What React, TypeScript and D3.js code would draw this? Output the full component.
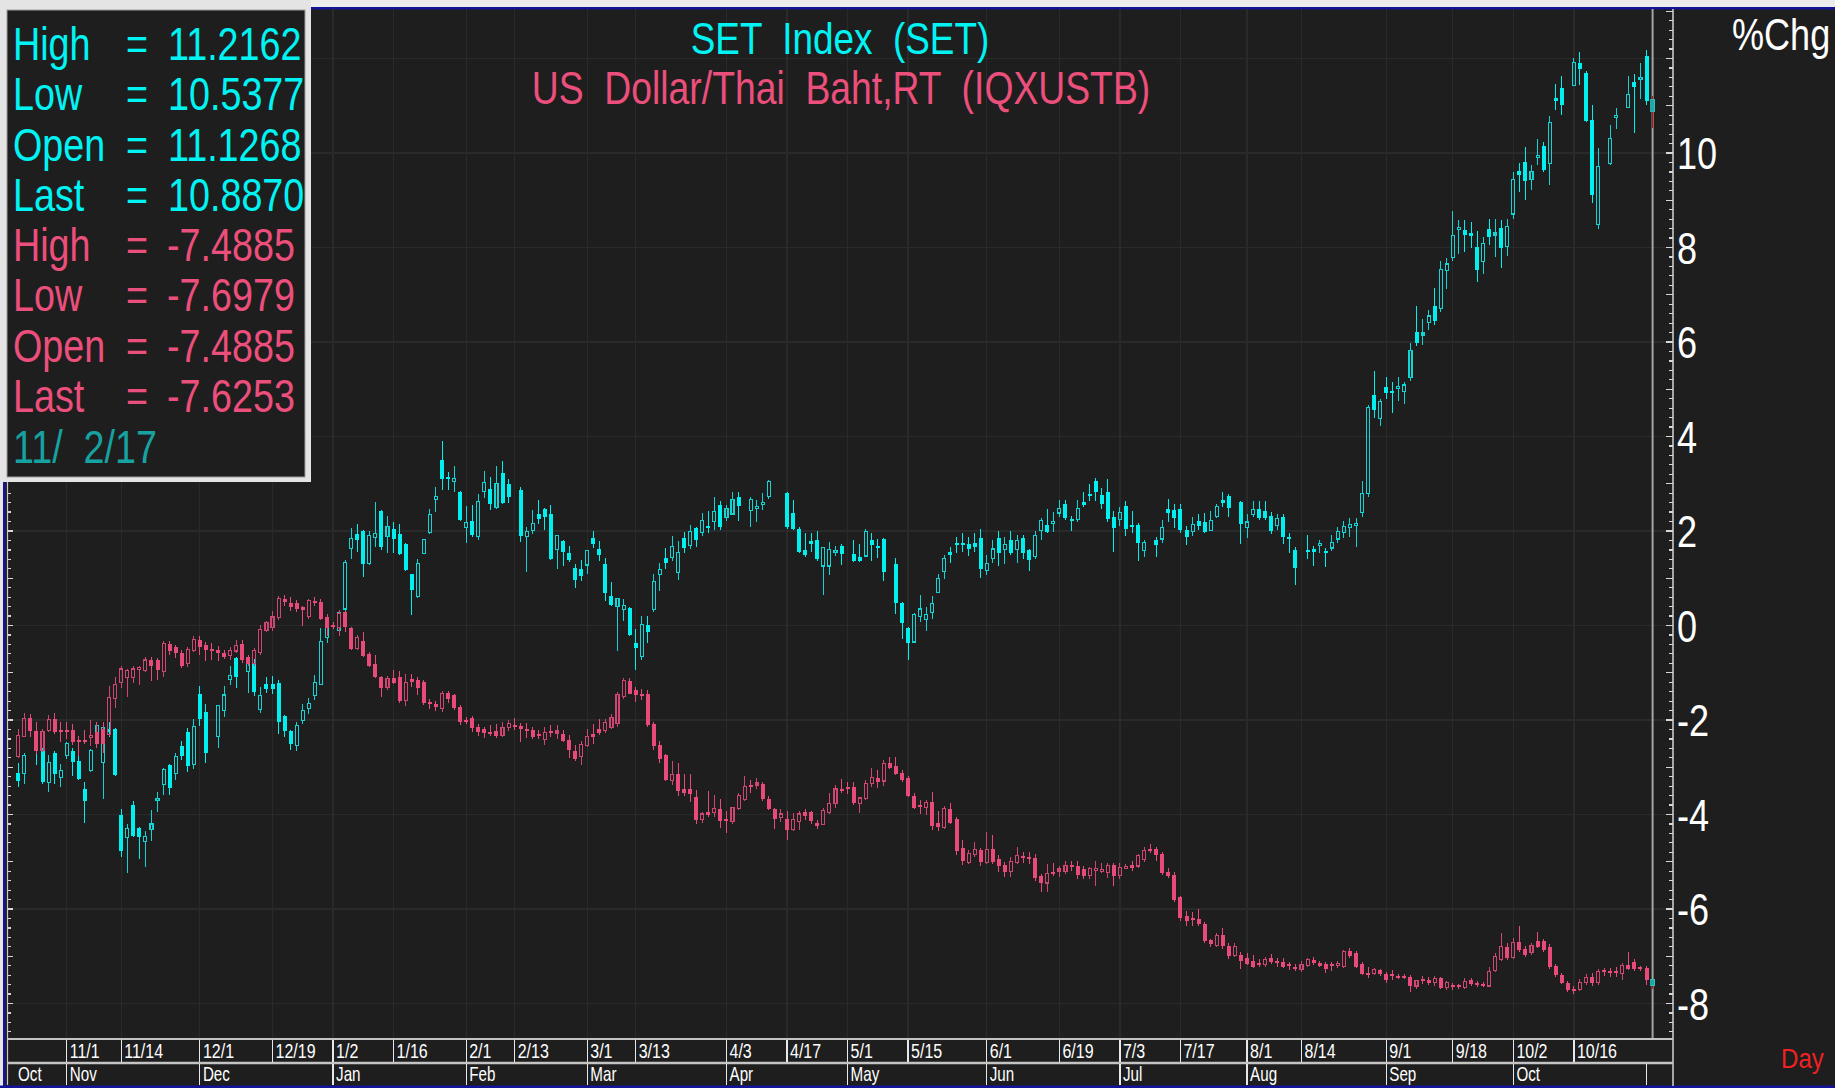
import React from 'react';
import * as d3 from 'd3';

const W = 1835;
const H = 1088;
const FONT = '"Liberation Sans", Arial, Helvetica, sans-serif';

// ---- categories ----
const firstDay = new Date(2016, 9, 20);
const lastDay = new Date(2017, 10, 2);
const dateTicks: [string, string][] = [
  ['2016-11-01', '11/1'], ['2016-11-14', '11/14'], ['2016-12-01', '12/1'], ['2016-12-19', '12/19'],
  ['2017-01-02', '1/2'], ['2017-01-16', '1/16'], ['2017-02-01', '2/1'], ['2017-02-13', '2/13'],
  ['2017-03-01', '3/1'], ['2017-03-13', '3/13'], ['2017-04-03', '4/3'], ['2017-04-17', '4/17'],
  ['2017-05-01', '5/1'], ['2017-05-15', '5/15'], ['2017-06-01', '6/1'], ['2017-06-19', '6/19'],
  ['2017-07-03', '7/3'], ['2017-07-17', '7/17'], ['2017-08-01', '8/1'], ['2017-08-14', '8/14'],
  ['2017-09-01', '9/1'], ['2017-09-18', '9/18'], ['2017-10-02', '10/2'], ['2017-10-16', '10/16'],
];
const monthNames = ['Jan', 'Feb', 'Mar', 'Apr', 'May', 'Jun', 'Jul', 'Aug', 'Sep', 'Oct', 'Nov', 'Dec'];
const yLabels = [10, 8, 6, 4, 2, 0, -2, -4, -6, -8];
const gridValues = [12, 10, 8, 6, 4, 2, 0, -2, -4, -6, -8];

const setInfo: [string, string][] = [['High', '11.2162'], ['Low', '10.5377'], ['Open', '11.1268'], ['Last', '10.8870']];
const fxInfo: [string, string][] = [['High', '-7.4885'], ['Low', '-7.6979'], ['Open', '-7.4885'], ['Last', '-7.6253']];
const infoDate = '11/  2/17';
const title1 = 'SET  Index  (SET)';
const title2 = 'US  Dollar/Thai  Baht,RT  (IQXUSTB)';

type C = [number, number, number, number] | null; // open, high, low, close (% change)

// SET Index (%Chg), one entry per weekday, null = market holiday
const setCandles: C[] = [
  [-3.13,-2.90,-3.41,-3.29],[-3.14,-2.69,-3.36,-2.76],null,[-2.35,-2.25,-2.95,-2.62],[-2.65,-2.60,-3.35,-3.32],
  [-3.32,-2.75,-3.52,-2.90],[-2.69,-2.65,-3.35,-3.14],[-3.22,-2.94,-3.41,-3.07],[-2.76,-2.47,-2.83,-2.49],[-2.66,-2.60,-3.18,-2.88],
  [-2.86,-2.66,-3.27,-3.25],[-3.46,-3.32,-4.18,-3.71],[-3.07,-2.61,-3.11,-2.64],[-2.33,-2.05,-2.40,-2.12],[-2.90,-2.14,-3.68,-2.16],
  [-2.20,-2.05,-2.35,-2.25],[-2.19,-2.17,-3.18,-3.16],[-4.00,-3.88,-4.90,-4.78],[-4.49,-4.20,-5.23,-4.30],[-3.80,-3.72,-4.47,-4.45],
  [-4.29,-4.27,-4.95,-4.47],[-4.57,-4.34,-5.11,-4.47],[-4.31,-3.90,-4.56,-4.20],[-3.70,-3.53,-3.95,-3.68],[-3.36,-3.02,-3.58,-3.04],
  [-2.95,-2.93,-3.58,-3.44],[-3.14,-2.70,-3.26,-2.78],[-2.56,-2.45,-2.84,-2.76],[-2.26,-2.16,-3.10,-2.97],[-2.95,-1.98,-3.04,-2.13],
  [-1.46,-1.27,-2.12,-1.98],[-1.84,-1.66,-2.90,-2.69],null,[-2.35,-1.68,-2.60,-1.70],[-1.80,-1.27,-1.93,-1.47],
  [-1.15,-0.85,-1.25,-1.06],[-0.69,-0.67,-1.32,-1.10],null,[-0.97,-0.79,-1.42,-0.81],[-0.81,-0.70,-1.49,-1.41],
  [-1.77,-1.30,-1.85,-1.48],[-1.24,-1.10,-1.42,-1.34],[-1.24,-1.06,-1.45,-1.34],[-1.22,-1.15,-2.29,-2.05],[-1.91,-1.89,-2.35,-2.23],
  [-2.23,-2.21,-2.64,-2.51],[-2.54,-2.05,-2.66,-2.12],[-2.01,-1.66,-2.08,-1.80],[-1.75,-1.53,-1.87,-1.66],[-1.48,-1.04,-1.58,-1.20],
  [-1.24,-0.05,-1.26,-0.33],[-0.25,0.05,-0.38,-0.05],null,[-0.11,0.32,-0.13,0.28],[0.35,1.39,0.27,1.34],
  [1.63,2.07,1.40,1.84],[1.94,2.15,1.55,1.80],[2.00,2.02,1.02,1.31],[1.31,2.00,1.28,1.91],[1.86,2.61,1.67,1.94],
  [2.42,2.44,1.60,1.66],[1.89,2.32,1.53,2.10],[2.05,2.19,1.53,1.84],[1.94,2.15,1.50,1.52],[1.73,1.75,1.15,1.17],
  [1.08,1.10,0.23,0.76],[0.61,1.41,0.59,1.31],[1.53,1.84,1.51,1.82],[1.96,2.47,1.93,2.35],[2.66,2.94,2.40,2.73],
  [3.51,3.90,2.86,3.09],[3.14,3.24,2.86,3.09],[3.04,3.37,2.82,3.11],[2.83,2.85,2.21,2.23],[2.08,2.52,1.74,2.18],
  [2.22,2.56,1.87,1.92],[1.88,2.78,1.82,2.62],[2.83,3.26,2.69,3.02],[2.88,3.14,2.44,2.57],[2.50,3.37,2.47,3.01],
  [3.22,3.48,2.57,2.59],[2.99,3.11,2.59,2.73],null,[2.86,2.94,1.77,1.89],[1.89,2.09,1.14,1.99],
  [2.02,2.45,1.93,2.15],[2.36,2.66,2.15,2.26],[2.46,2.49,2.03,2.30],[2.36,2.56,1.38,1.40],[1.60,1.92,1.19,1.90],
  [1.79,1.81,1.25,1.56],[1.53,1.69,1.35,1.39],[1.22,1.31,0.79,0.96],[1.19,1.39,0.94,1.05],[1.28,1.60,1.10,1.58],
  [1.86,2.00,1.63,1.72],[1.61,1.78,1.36,1.49],[1.31,1.43,0.52,0.69],[0.62,0.92,0.41,0.43],[0.40,0.59,-0.54,0.57],
  [0.33,0.57,0.09,0.42],[0.38,0.40,-0.22,-0.20],[-0.38,-0.08,-0.94,-0.47],[-0.65,0.21,-0.74,0.02],[0.01,0.21,-0.37,-0.13],
  [0.33,1.08,0.28,0.93],[1.07,1.32,0.72,1.19],[1.42,1.65,1.20,1.33],[1.44,1.90,1.37,1.67],[1.12,1.79,0.96,1.54],
  [1.86,1.98,1.53,1.65],[1.70,2.12,1.61,1.98],[2.06,2.08,1.66,1.80],[1.96,2.39,1.89,2.22],[2.11,2.43,1.96,2.06],
  [2.20,2.71,2.03,2.42],[2.55,2.63,2.03,2.08],[2.29,2.56,2.22,2.48],[2.36,2.82,2.33,2.66],[2.71,2.82,2.22,2.53],
  null,[2.43,2.71,2.09,2.66],[2.48,2.66,2.20,2.51],[2.57,2.80,2.45,2.59],[2.73,3.07,2.68,3.05],
  null,null,[2.81,2.83,2.04,2.09],[2.39,2.66,2.02,2.04],[2.04,2.09,1.54,1.56],
  [1.60,1.95,1.45,1.49],[1.79,1.96,1.56,1.72],[1.82,1.99,1.36,1.40],[1.26,1.67,0.65,1.65],[1.26,1.76,1.06,1.61],
  [1.55,1.68,1.48,1.58],[1.68,1.72,1.29,1.51],null,[1.51,1.81,1.35,1.37],[1.46,1.73,1.34,1.37],
  [1.47,2.04,1.44,1.99],[1.81,1.96,1.36,1.70],[1.69,1.84,1.43,1.63],[1.83,1.86,0.95,1.14],null,
  [1.31,1.42,0.25,0.47],[0.47,0.49,-0.29,0.06],[-0.05,-0.03,-0.74,-0.37],[-0.35,0.26,-0.37,0.24],[0.20,0.65,0.08,0.35],
  [0.13,0.39,-0.11,0.23],[0.27,0.63,0.13,0.46],[0.70,1.10,0.68,0.99],[1.15,1.49,0.98,1.42],[1.56,1.66,1.32,1.50],
  [1.75,1.88,1.53,1.70],[1.75,1.96,1.56,1.70],[1.72,1.88,1.48,1.62],[1.75,1.96,1.56,1.67],[1.85,2.05,1.01,1.19],
  [1.17,1.49,1.06,1.32],[1.42,1.82,1.33,1.62],[1.85,1.99,1.26,1.54],[1.60,1.88,1.30,1.72],[1.82,1.99,1.49,1.54],
  [1.60,1.92,1.33,1.80],[1.85,1.92,1.41,1.54],[1.60,1.62,1.16,1.38],[1.46,2.00,1.41,1.91],[2.01,2.27,1.80,2.22],
  [2.13,2.46,1.95,1.97],[2.17,2.40,1.97,2.20],[2.38,2.66,2.30,2.48],[2.58,2.66,2.24,2.28],[2.26,2.31,2.00,2.22],
  [2.25,2.66,2.19,2.48],[2.61,2.82,2.50,2.56],[2.79,2.99,2.64,2.75],[3.05,3.13,2.64,2.83],[2.77,2.90,2.47,2.58],
  [2.82,3.10,2.19,2.25],[2.30,2.42,1.56,2.07],[2.25,2.50,2.11,2.39],[2.52,2.63,1.90,2.05],[2.11,2.42,1.96,2.09],
  [2.13,2.16,1.37,1.74],[1.58,1.80,1.44,1.75],null,[1.80,1.88,1.46,1.70],[1.83,2.24,1.74,2.07],
  [2.46,2.67,2.20,2.38],[2.44,2.57,2.07,2.27],[2.46,2.57,1.96,2.03],[2.03,2.11,1.71,1.88],[1.99,2.29,1.90,2.14],
  [2.22,2.35,2.03,2.11],[2.19,2.38,1.95,1.97],[2.01,2.43,1.99,2.22],[2.30,2.58,2.27,2.52],[2.66,2.82,2.50,2.60],
  [2.74,2.78,2.30,2.48],null,[2.61,2.63,1.72,2.14],[2.07,2.35,1.86,2.19],[2.35,2.63,2.29,2.46],
  [2.46,2.63,2.24,2.28],[2.42,2.63,2.24,2.28],[2.32,2.41,1.94,1.99],[2.11,2.36,2.03,2.26],[2.30,2.36,1.72,1.88],
  [1.88,1.96,1.53,1.83],[1.60,1.66,0.86,1.21],null,[1.60,1.91,1.41,1.56],[1.62,1.68,1.26,1.56],
  [1.70,1.82,1.53,1.72],[1.58,1.64,1.23,1.54],[1.64,1.92,1.58,1.75],[1.83,2.09,1.74,1.99],[1.97,2.22,1.86,2.09],
  [2.07,2.27,1.88,2.14],[2.13,2.27,1.66,2.14],[2.40,3.05,2.30,2.79],[2.80,4.66,2.72,4.62],[4.88,5.38,4.39,4.56],
  [4.39,4.80,4.23,4.75],[5.05,5.25,4.79,4.92],[4.96,5.15,4.49,4.93],[5.03,5.25,4.75,5.05],[4.96,5.15,4.69,5.09],
  [5.25,5.98,5.17,5.82],[6.22,6.76,5.91,5.98],[6.16,6.49,5.93,6.18],[6.41,6.68,6.25,6.55],[6.77,7.15,6.36,6.44],
  [6.71,7.71,6.63,7.54],[7.52,7.77,7.13,7.65],[7.79,8.78,7.71,8.25],[8.40,8.59,7.86,8.42],[8.38,8.59,7.90,8.26],
  [8.31,8.55,8.00,8.25],[8.02,8.35,7.26,7.52],[7.70,8.22,7.43,8.09],[8.39,8.60,8.05,8.22],[8.28,8.60,7.80,8.29],
  [8.42,8.59,7.57,8.00],[8.03,8.60,7.83,8.45],[8.71,9.60,8.61,9.44],[9.61,9.79,9.18,9.54],[9.80,10.13,9.00,9.41],
  [9.43,9.74,9.22,9.61],[9.91,10.29,9.74,9.93],[10.14,10.24,9.59,9.65],[9.77,10.78,9.32,10.64],[11.17,11.47,10.90,11.10],
  [11.37,11.62,10.80,11.01],null,[11.43,12.02,11.41,11.92],[11.91,12.13,11.43,11.78],[11.69,11.73,10.65,10.67],
  [10.69,11.02,8.94,9.11],[8.49,10.10,8.39,9.72],null,[9.77,10.59,9.75,10.31],[10.75,10.95,10.50,10.78],
  null,[10.97,11.62,10.95,11.24],[11.51,11.68,10.42,11.39],[11.56,11.90,11.15,11.58],[12.06,12.19,11.02,11.10],
  [11.1268,11.2162,10.5377,10.887],
];

// US Dollar / Thai Baht (%Chg)
const fxCandles: C[] = [
  [-2.78,-2.19,-2.81,-2.33],[-2.35,-1.86,-2.37,-1.96],[-1.96,-1.87,-2.35,-2.23],[-2.23,-2.05,-2.72,-2.65],[-2.65,-2.19,-2.67,-2.24],
  [-2.23,-1.90,-2.26,-1.98],[-1.98,-1.86,-2.30,-2.26],[-2.22,-2.05,-2.47,-2.23],[-2.22,-2.05,-2.40,-2.23],[-2.22,-2.08,-2.52,-2.47],
  [-2.42,-2.33,-2.77,-2.47],[-2.43,-2.22,-2.51,-2.44],[-2.37,-2.00,-2.56,-2.33],[-2.26,-2.05,-2.60,-2.51],[-2.19,-2.05,-2.69,-2.51],
  [-2.30,-1.29,-2.33,-1.52],[-1.55,-1.09,-1.74,-1.24],[-1.20,-0.85,-1.33,-0.92],[-1.11,-0.92,-1.51,-0.95],[-1.11,-0.86,-1.21,-0.92],
  [-0.92,-0.85,-1.26,-0.90],[-0.95,-0.66,-0.99,-0.73],[-0.73,-0.66,-1.17,-0.85],[-0.74,-0.68,-1.15,-0.95],[-0.97,-0.33,-1.08,-0.39],
  [-0.39,-0.33,-0.62,-0.53],[-0.46,-0.41,-0.69,-0.59],[-0.59,-0.52,-0.90,-0.85],[-0.81,-0.45,-0.88,-0.50],[-0.52,-0.23,-0.57,-0.30],
  [-0.30,-0.23,-0.62,-0.45],[-0.42,-0.35,-0.76,-0.52],[-0.49,-0.38,-0.72,-0.53],[-0.51,-0.43,-0.76,-0.59],[-0.59,-0.52,-0.71,-0.67],
  [-0.64,-0.46,-0.72,-0.53],[-0.54,-0.30,-0.58,-0.42],[-0.39,-0.30,-0.80,-0.73],[-0.67,-0.63,-0.86,-0.81],[-0.81,-0.48,-0.86,-0.53],
  [-0.57,0.01,-0.63,-0.09],[-0.11,0.10,-0.14,0.07],[-0.05,0.30,-0.11,0.18],[0.16,0.62,0.12,0.57],[0.57,0.65,0.41,0.49],
  [0.47,0.60,0.30,0.39],[0.47,0.53,0.28,0.35],[0.39,0.42,-0.02,0.32],[0.19,0.57,0.14,0.52],[0.52,0.60,0.42,0.47],
  [0.49,0.57,0.11,0.14],[0.18,0.25,-0.23,-0.05],[0.01,0.08,-0.08,-0.01],[-0.04,0.32,-0.23,0.26],[0.28,0.30,-0.13,-0.04],
  [-0.05,-0.03,-0.52,-0.49],[-0.49,-0.21,-0.52,-0.25],[-0.32,-0.14,-0.66,-0.64],[-0.61,-0.56,-0.87,-0.85],[-0.81,-0.62,-1.12,-1.10],
  [-1.10,-1.06,-1.51,-1.32],[-1.32,-1.06,-1.37,-1.13],[-1.11,-0.95,-1.24,-1.22],[-1.08,-0.97,-1.65,-1.60],[-1.58,-1.02,-1.70,-1.20],
  [-1.13,-1.02,-1.30,-1.20],[-1.15,-1.08,-1.48,-1.32],[-1.20,-1.15,-1.69,-1.65],[-1.63,-1.55,-1.76,-1.67],[-1.66,-1.60,-1.80,-1.73],
  [-1.75,-1.38,-1.84,-1.43],[-1.43,-1.38,-1.63,-1.55],[-1.48,-1.45,-1.79,-1.75],[-1.72,-1.68,-2.10,-2.05],[-1.99,-1.93,-2.09,-2.04],
  [-1.95,-1.91,-2.25,-2.16],[-2.15,-2.08,-2.33,-2.25],[-2.20,-2.15,-2.39,-2.28],[-2.25,-2.11,-2.33,-2.29],[-2.23,-2.08,-2.39,-2.33],
  [-2.33,-2.05,-2.36,-2.15],[-2.16,-2.01,-2.23,-2.08],[-2.12,-1.96,-2.22,-2.15],[-2.12,-2.06,-2.47,-2.20],[-2.21,-2.07,-2.39,-2.22],
  [-2.21,-2.14,-2.41,-2.35],[-2.31,-2.21,-2.41,-2.33],[-2.42,-2.14,-2.52,-2.26],[-2.25,-2.11,-2.35,-2.26],[-2.26,-2.10,-2.40,-2.25],
  [-2.29,-2.21,-2.47,-2.45],[-2.42,-2.32,-2.81,-2.64],[-2.66,-2.52,-2.86,-2.82],[-2.77,-2.45,-2.95,-2.52],[-2.54,-2.19,-2.57,-2.35],
  [-2.29,-2.08,-2.50,-2.35],[-2.18,-1.98,-2.31,-2.28],[-2.22,-1.98,-2.28,-2.06],[-2.15,-1.88,-2.20,-1.95],[-2.08,-1.40,-2.14,-1.46],
  [-1.50,-1.11,-1.56,-1.17],[-1.17,-1.11,-1.46,-1.44],[-1.36,-1.31,-1.62,-1.48],[-1.46,-1.34,-1.57,-1.49],[-1.46,-1.37,-2.15,-2.11],
  [-2.09,-2.05,-2.63,-2.56],[-2.52,-2.44,-2.90,-2.82],[-2.75,-2.72,-3.30,-3.28],[-3.28,-2.87,-3.37,-3.15],[-3.15,-2.91,-3.60,-3.51],
  [-3.46,-3.15,-3.60,-3.54],[-3.46,-3.14,-3.73,-3.56],[-3.62,-3.48,-4.20,-4.11],[-4.11,-3.95,-4.19,-3.99],[-3.95,-3.50,-4.05,-4.02],
  [-3.95,-3.58,-4.05,-3.88],[-3.88,-3.67,-4.29,-4.14],[-4.09,-3.93,-4.39,-4.14],[-4.14,-3.84,-4.20,-3.86],[-3.88,-3.54,-3.91,-3.60],
  [-3.69,-3.18,-3.72,-3.41],[-3.40,-3.28,-3.54,-3.41],[-3.36,-3.22,-3.45,-3.35],[-3.35,-3.32,-3.72,-3.68],[-3.67,-3.60,-3.91,-3.88],
  [-3.88,-3.86,-4.31,-4.09],[-4.07,-3.89,-4.16,-3.99],[-4.09,-3.93,-4.55,-4.32],[-4.32,-3.96,-4.34,-4.11],[-4.15,-3.92,-4.33,-3.99],
  [-3.95,-3.89,-4.11,-4.04],[-3.95,-3.92,-4.21,-4.14],[-4.18,-4.11,-4.30,-4.25],[-4.21,-3.86,-4.23,-3.92],[-3.95,-3.55,-3.99,-3.76],
  [-3.77,-3.38,-3.86,-3.46],[-3.46,-3.24,-3.55,-3.49],[-3.43,-3.31,-3.56,-3.44],[-3.42,-3.31,-3.80,-3.76],[-3.76,-3.62,-3.96,-3.65],
  [-3.67,-3.26,-3.70,-3.35],[-3.35,-3.01,-3.42,-3.22],[-3.22,-3.06,-3.44,-3.31],[-3.29,-2.85,-3.39,-2.93],[-2.91,-2.79,-3.04,-3.01],
  [-2.98,-2.79,-3.16,-3.14],[-3.12,-3.06,-3.31,-3.28],[-3.22,-3.18,-3.63,-3.60],[-3.60,-3.54,-3.89,-3.86],[-3.82,-3.70,-3.99,-3.84],
  [-3.86,-3.69,-4.02,-3.75],[-3.74,-3.53,-4.33,-4.25],[-4.17,-3.93,-4.35,-4.27],[-4.27,-3.82,-4.30,-3.88],[-3.88,-3.75,-4.20,-4.17],
  [-4.09,-4.05,-4.85,-4.77],[-4.70,-4.55,-5.06,-4.98],[-5.01,-4.75,-5.05,-4.82],[-4.84,-4.58,-4.91,-4.74],[-4.76,-4.70,-5.10,-5.01],
  [-5.01,-4.36,-5.05,-4.74],[-4.74,-4.44,-5.05,-5.01],[-4.94,-4.86,-5.22,-5.09],[-5.07,-5.00,-5.32,-5.21],[-5.21,-4.89,-5.33,-4.99],
  [-5.02,-4.69,-5.05,-4.87],[-4.90,-4.79,-5.03,-4.92],[-4.91,-4.79,-5.04,-4.92],[-4.93,-4.84,-5.40,-5.34],[-5.31,-5.25,-5.63,-5.45],
  [-5.45,-5.04,-5.63,-5.24],[-5.24,-5.03,-5.31,-5.25],[-5.18,-5.10,-5.33,-5.17],[-5.21,-4.98,-5.25,-5.07],[-5.08,-4.98,-5.20,-5.09],
  [-5.09,-4.98,-5.37,-5.29],[-5.16,-5.09,-5.37,-5.31],[-5.29,-5.12,-5.37,-5.15],[-5.17,-4.98,-5.52,-5.16],[-5.19,-5.02,-5.24,-5.18],
  [-5.23,-5.02,-5.34,-5.07],[-5.07,-5.03,-5.51,-5.31],[-5.29,-5.03,-5.36,-5.13],[-5.12,-5.04,-5.14,-5.11],[-5.07,-4.98,-5.19,-5.13],
  [-5.09,-4.84,-5.14,-4.87],[-4.95,-4.69,-5.00,-4.76],[-4.74,-4.63,-4.82,-4.77],[-4.74,-4.68,-4.98,-4.85],[-4.84,-4.79,-5.29,-5.23],
  [-5.21,-5.13,-5.35,-5.31],[-5.27,-5.21,-5.86,-5.81],[-5.75,-5.73,-6.25,-6.20],[-6.15,-6.05,-6.36,-6.26],[-6.20,-6.07,-6.35,-6.22],
  [-6.21,-5.99,-6.36,-6.32],[-6.31,-6.27,-6.71,-6.67],[-6.65,-6.63,-6.80,-6.75],[-6.78,-6.50,-6.80,-6.56],[-6.56,-6.41,-6.85,-6.78],
  [-6.78,-6.73,-7.05,-6.99],[-6.99,-6.73,-7.01,-6.79],[-6.97,-6.90,-7.27,-7.09],[-7.04,-6.94,-7.19,-7.17],[-7.10,-6.98,-7.24,-7.22],
  [-7.16,-7.06,-7.23,-7.17],[-7.18,-7.01,-7.22,-7.07],[-7.03,-6.96,-7.17,-7.12],[-7.11,-7.04,-7.22,-7.12],[-7.12,-7.03,-7.25,-7.22],
  [-7.19,-7.12,-7.29,-7.20],[-7.22,-7.17,-7.31,-7.28],[-7.28,-7.11,-7.33,-7.17],[-7.20,-7.03,-7.23,-7.07],[-7.07,-7.01,-7.18,-7.14],
  [-7.14,-7.09,-7.23,-7.20],[-7.17,-7.12,-7.36,-7.28],[-7.19,-7.13,-7.31,-7.20],[-7.20,-7.09,-7.25,-7.15],[-7.22,-6.86,-7.25,-6.89],
  [-6.89,-6.83,-7.04,-6.99],[-6.93,-6.89,-7.25,-7.22],[-7.17,-7.12,-7.40,-7.38],[-7.37,-7.23,-7.46,-7.38],[-7.36,-7.25,-7.40,-7.28],
  [-7.30,-7.26,-7.42,-7.38],[-7.38,-7.34,-7.56,-7.51],[-7.39,-7.30,-7.50,-7.40],[-7.43,-7.37,-7.48,-7.43],[-7.42,-7.38,-7.48,-7.44],
  [-7.43,-7.40,-7.76,-7.63],[-7.63,-7.50,-7.70,-7.52],[-7.49,-7.42,-7.58,-7.50],[-7.50,-7.43,-7.60,-7.56],[-7.56,-7.42,-7.62,-7.47],
  [-7.47,-7.43,-7.70,-7.67],[-7.67,-7.53,-7.72,-7.56],[-7.63,-7.57,-7.72,-7.64],[-7.63,-7.58,-7.69,-7.64],[-7.67,-7.47,-7.70,-7.54],
  [-7.50,-7.45,-7.63,-7.59],[-7.59,-7.52,-7.66,-7.60],[-7.59,-7.55,-7.65,-7.61],[-7.63,-7.23,-7.65,-7.32],[-7.31,-6.93,-7.34,-7.00],
  [-7.06,-6.50,-7.10,-6.80],[-6.80,-6.72,-7.08,-7.03],[-7.03,-6.61,-7.05,-6.70],[-6.70,-6.37,-6.92,-6.87],[-6.85,-6.78,-7.02,-6.97],
  [-6.93,-6.72,-6.98,-6.77],[-6.67,-6.48,-6.83,-6.80],[-6.68,-6.63,-6.90,-6.87],[-6.80,-6.75,-7.27,-7.23],[-7.21,-7.17,-7.44,-7.40],
  [-7.39,-7.35,-7.59,-7.56],[-7.56,-7.52,-7.75,-7.72],[-7.70,-7.62,-7.80,-7.71],[-7.71,-7.48,-7.74,-7.55],[-7.56,-7.37,-7.60,-7.45],
  [-7.43,-7.36,-7.62,-7.56],[-7.56,-7.28,-7.60,-7.32],[-7.31,-7.24,-7.42,-7.32],[-7.32,-7.24,-7.43,-7.33],[-7.32,-7.23,-7.43,-7.34],
  [-7.36,-7.15,-7.50,-7.19],[-7.19,-6.92,-7.30,-7.27],[-7.12,-7.05,-7.32,-7.27],[-7.25,-7.20,-7.31,-7.26],[-7.24,-7.20,-7.60,-7.50],
  [-7.4885,-7.4885,-7.6979,-7.6253],
];

// ---- scales ----
const days = d3.timeDay.range(firstDay, d3.timeDay.offset(lastDay, 1)).filter((d) => d.getDay() !== 0 && d.getDay() !== 6);
const x = d3.scaleLinear().domain([0, days.length - 1]).range([18.3, 1652.6]);
const y = d3.scaleLinear().domain([-8, 10]).range([1003.5, 153]);
const fmt = d3.timeFormat('%Y-%m-%d');
const dayIndex = (iso: string) => days.findIndex((d) => fmt(d) === iso);

const PLOT_L = 7;
const PLOT_R = 1673;
const PLOT_T = 9;
const PLOT_B = 1038;
const ROW2 = 1063;
const BOX_B = 482;

const CYAN = '#00f0f0';
const CYAN_H = '#12d4d4';
const PINK = '#e84a7a';
const PINK_H = '#cf4672';

function NText(p: { x: number; y: number; size: number; fill: string; sx?: number; anchor?: string; children: React.ReactNode }) {
  const sx = p.sx ?? 0.82;
  return (
    <text
      transform={`translate(${p.x},${p.y}) scale(${sx},1)`}
      fontSize={p.size}
      fill={p.fill}
      fontFamily={FONT}
      textAnchor={p.anchor || 'start'}
      style={{ whiteSpace: 'pre' }}
    >
      {p.children}
    </text>
  );
}

function Candles({ data, fill, hollow }: { data: C[]; fill: string; hollow: string }) {
  const n = data.length;
  return (
    <g shapeRendering="crispEdges">
      {data.map((c, i) => {
        if (!c) return null;
        const [o, h, l, cl] = c;
        const cx = x(i);
        const yo = y(o), yc = y(cl), yh = y(h), yl = y(l);
        let top = Math.min(yo, yc);
        let bot = Math.max(yo, yc);
        if (bot - top < 2) {
          const m = (top + bot) / 2;
          top = m - 1;
          bot = m + 1;
        }
        if (i === n - 1) {
          return (
            <g key={i}>
              <line x1={cx} x2={cx} y1={yh} y2={yl} stroke="#c01010" strokeWidth={1.5} />
              <rect x={cx - 2} y={top} width={4} height={bot - top} fill="#1fa6a6" stroke="#35c8c8" strokeWidth={0.8} />
            </g>
          );
        }
        const up = cl > o;
        if (up) {
          return (
            <g key={i}>
              <line x1={cx} x2={cx} y1={yh} y2={top} stroke={hollow} strokeWidth={1} />
              <line x1={cx} x2={cx} y1={bot} y2={yl} stroke={hollow} strokeWidth={1} />
              <rect x={cx - 1.5} y={top} width={3} height={bot - top} fill="none" stroke={hollow} strokeWidth={1.1} />
            </g>
          );
        }
        return (
          <g key={i}>
            <line x1={cx} x2={cx} y1={yh} y2={yl} stroke={fill} strokeWidth={1} />
            <rect x={cx - 2} y={top} width={4} height={bot - top} fill={fill} />
          </g>
        );
      })}
    </g>
  );
}

export default function App() {
  const tickIdx = dateTicks.map(([iso, label]) => ({ i: dayIndex(iso), label }));
  const months: { i: number; label: string }[] = [];
  days.forEach((d, i) => {
    if (i === 0 || d.getMonth() !== days[i - 1].getMonth()) months.push({ i, label: monthNames[d.getMonth()] });
  });
  const minor = d3.range(-43, 66).map((k) => ({ v: k / 5, major: k % 5 === 0 }));

  return (
    <svg width={W} height={H} style={{ position: 'absolute', left: 0, top: 0, display: 'block' }}>
      <rect x={0} y={0} width={W} height={H} fill="#1e1e1e" />
      {/* frame */}
      <rect x={0} y={0} width={W} height={7} fill="#ececec" />
      <rect x={0} y={7} width={W} height={2.5} fill="#14149a" />
      <rect x={0} y={0} width={3} height={H} fill="#e6e6e6" />
      <rect x={3} y={0} width={2.5} height={H} fill="#14149a" />
      <rect x={0} y={1085.5} width={W} height={2.5} fill="#14149a" />

      {/* grid */}
      <g stroke="#2a2a2a" strokeWidth={1.2} shapeRendering="crispEdges">
        {gridValues.map((v) => (
          <line key={'h' + v} x1={PLOT_L} x2={PLOT_R} y1={y(v)} y2={y(v)} />
        ))}
        {tickIdx.map((t) => (
          <line key={'v' + t.label} x1={x(t.i)} x2={x(t.i)} y1={PLOT_T} y2={PLOT_B} />
        ))}
      </g>

      {/* cursor line */}
      <line x1={x(days.length - 1)} x2={x(days.length - 1)} y1={PLOT_T} y2={PLOT_B + 2} stroke="#a4a4a4" strokeWidth={2} />

      {/* candles */}
      <Candles data={setCandles} fill={CYAN} hollow={CYAN_H} />
      <Candles data={fxCandles} fill={PINK} hollow={PINK_H} />

      {/* titles */}
      <NText x={840} y={54} size={45} fill="#00f4f4" anchor="middle">{title1}</NText>
      <NText x={841} y={104} size={45.5} fill="#ec4f7c" anchor="middle">{title2}</NText>

      {/* right axis */}
      <line x1={PLOT_R} x2={PLOT_R} y1={PLOT_T} y2={H - 2} stroke="#d4d4d4" strokeWidth={1.5} />
      <g stroke="#d8d8d8" strokeWidth={1.2} shapeRendering="crispEdges">
        {minor.filter((m) => y(m.v) > PLOT_T + 2 && y(m.v) < PLOT_B - 2).map((m) => (
          <line key={'r' + m.v} x1={PLOT_R - (m.major ? 7 : 4)} x2={PLOT_R} y1={y(m.v)} y2={y(m.v)} />
        ))}
        {minor.filter((m) => y(m.v) > BOX_B + 2 && y(m.v) < PLOT_B - 2).map((m) => (
          <line key={'l' + m.v} x1={PLOT_L} x2={PLOT_L + (m.major ? 6 : 3.5)} y1={y(m.v)} y2={y(m.v)} />
        ))}
      </g>
      <line x1={PLOT_L + 0.5} x2={PLOT_L + 0.5} y1={BOX_B} y2={H - 3} stroke="#c8c8c8" strokeWidth={1.2} />
      {yLabels.map((v) => (
        <NText key={'yl' + v} x={1677} y={y(v) + 16} size={44} fill="#ffffff">{String(v)}</NText>
      ))}
      <NText x={1732} y={50} size={44} fill="#ffffff">%Chg</NText>
      <NText x={1781} y={1068} size={28} fill="#ee2222" sx={0.86}>Day</NText>

      {/* x axis */}
      <line x1={PLOT_L} x2={PLOT_R} y1={PLOT_B + 1} y2={PLOT_B + 1} stroke="#c4c4c4" strokeWidth={2} />
      <line x1={PLOT_L} x2={PLOT_R} y1={ROW2} y2={ROW2} stroke="#c4c4c4" strokeWidth={2.5} />
      <g stroke="#e8e8e8" strokeWidth={1.2} shapeRendering="crispEdges">
        {tickIdx.map((t) => (
          <line key={'ds' + t.label} x1={x(t.i)} x2={x(t.i)} y1={PLOT_B + 2} y2={ROW2 - 1} />
        ))}
        {months.filter((m) => m.i > 0).map((m) => (
          <line key={'ms' + m.i} x1={x(m.i)} x2={x(m.i)} y1={ROW2 + 1} y2={1085} />
        ))}
      </g>
      {tickIdx.map((t) => (
        <NText key={'dl' + t.label} x={x(t.i) + 3} y={1058} size={20} fill="#ffffff" sx={0.8}>{t.label}</NText>
      ))}
      {months.filter((m) => m.i < days.length - 5).map((m) => (
        <NText key={'ml' + m.i} x={m.i === 0 ? 18 : x(m.i) + 3} y={1081} size={20} fill="#ffffff" sx={0.76}>{m.label}</NText>
      ))}

      {/* info box */}
      <rect x={0} y={0} width={311} height={BOX_B} fill="#e4e4e4" />
      <rect x={7} y={10} width={298} height={467} fill="#1e1e1e" stroke="#9c9c9c" strokeWidth={1} />
      {setInfo.map(([k, v], j) => (
        <g key={'si' + k}>
          <NText x={13} y={60 + j * 50.4} size={46} fill="#00f4f4">{k}</NText>
          <NText x={126} y={60 + j * 50.4} size={46} fill="#00f4f4">=</NText>
          <NText x={168} y={60 + j * 50.4} size={46} fill="#00f4f4">{v}</NText>
        </g>
      ))}
      {fxInfo.map(([k, v], j) => (
        <g key={'fi' + k}>
          <NText x={13} y={261 + j * 50.4} size={46} fill="#ec4f7c">{k}</NText>
          <NText x={126} y={261 + j * 50.4} size={46} fill="#ec4f7c">=</NText>
          <NText x={167} y={261 + j * 50.4} size={46} fill="#ec4f7c">{v}</NText>
        </g>
      ))}
      <NText x={13} y={463} size={46} fill="#17a2a2">{infoDate}</NText>
    </svg>
  );
}
